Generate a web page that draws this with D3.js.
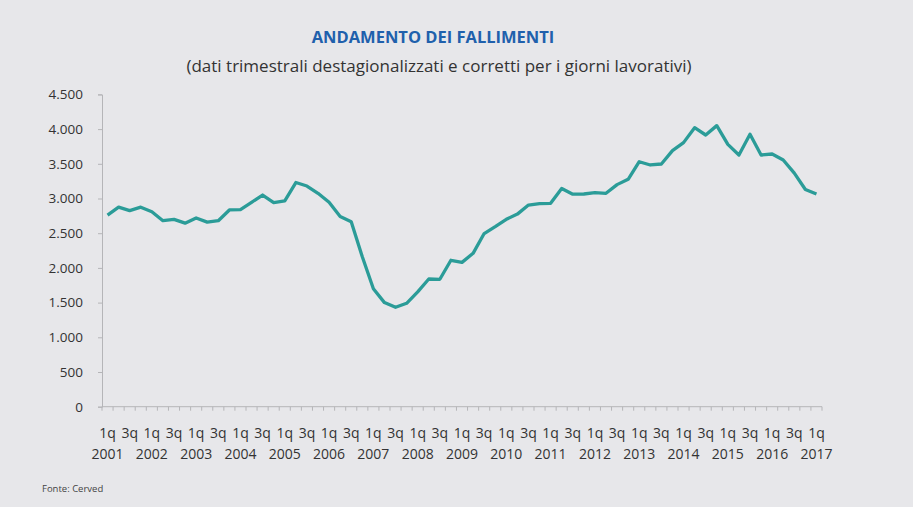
<!DOCTYPE html>
<html>
<head>
<meta charset="utf-8">
<script src="https://cdn.jsdelivr.net/npm/d3@7"></script>
<style>
  body { margin: 0; background: #e7e7ea; }
  text { font-family: "Open Sans", sans-serif; }
</style>
</head>
<body>
<div id="chart"></div>
<script>
// quarters 1q 2001 .. 1q 2017
const years = d3.range(2001, 2018);
const quarters = [];
years.forEach(function(y) {
    [1, 2, 3, 4].forEach(function(q) {
        if (y < 2017 || q === 1) quarters.push({ year: y, q: q });
    });
});

// number of bankruptcies per quarter
const fallimenti = [
    2760, 2875, 2825, 2875, 2810, 2680, 2700, 2645, 2720, 2660,
    2680, 2835, 2840, 2945, 3050, 2940, 2965, 3230, 3180, 3075,
    2945, 2740, 2665, 2160, 1700, 1500, 1432, 1490, 1655, 1840,
    1836, 2110, 2080, 2210, 2495, 2595, 2700, 2775, 2905, 2925,
    2930, 3145, 3062, 3065, 3084, 3075, 3200, 3277, 3530, 3483,
    3497, 3690, 3805, 4020, 3915, 4050, 3780, 3627, 3925, 3627,
    3641, 3555, 3365, 3130, 3065
];

const yTicks = [0, 500, 1000, 1500, 2000, 2500, 3000, 3500, 4000, 4500];

function main() {
    const W = 913, H = 507;
    const left = 102, right = 822, top = 94.4, bottom = 406.7;

    const svg = d3.select("#chart").append("svg")
        .attr("width", W).attr("height", H);

    svg.append("rect").attr("width", W).attr("height", H).attr("fill", "#e7e7ea");

    // titles
    svg.append("text")
        .attr("x", 433).attr("y", 43)
        .attr("text-anchor", "middle")
        .attr("font-size", "16.5px").attr("font-weight", "bold")
        .attr("fill", "#2060ac")
        .text("ANDAMENTO DEI FALLIMENTI");
    svg.append("text")
        .attr("x", 439).attr("y", 72)
        .attr("text-anchor", "middle")
        .attr("font-size", "17px")
        .attr("fill", "#333")
        .text("(dati trimestrali destagionalizzati e corretti per i giorni lavorativi)");

    const x = d3.scaleBand()
        .domain(d3.range(quarters.length))
        .range([left, right]);
    const y = d3.scaleLinear()
        .domain([0, 4500])
        .range([bottom, top]);

    const fmt = d3.formatLocale({ decimal: ",", thousands: ".", grouping: [3], currency: ["€", ""] }).format(",d");

    // Y axis
    const gy = svg.append("g")
        .attr("transform", `translate(${left},0)`)
        .call(d3.axisLeft(y).tickValues(yTicks).tickSize(4).tickPadding(15).tickFormat(fmt));
    gy.select(".domain").attr("stroke", "#b5b5b8");
    gy.selectAll(".tick line").attr("stroke", "#b5b5b8");
    gy.selectAll(".tick text").attr("font-size", "13.5px").attr("fill", "#333");

    // X axis line with ticks at band boundaries
    svg.append("line")
        .attr("x1", left).attr("x2", right)
        .attr("y1", bottom).attr("y2", bottom)
        .attr("stroke", "#b5b5b8");
    svg.selectAll(".xtick")
        .data(d3.range(quarters.length + 1))
        .join("line")
        .attr("class", "xtick")
        .attr("x1", function(i) { return left + i * x.step(); })
        .attr("x2", function(i) { return left + i * x.step(); })
        .attr("y1", bottom).attr("y2", bottom + 4)
        .attr("stroke", "#b5b5b8");

    // quarter labels (every 2 quarters)
    const labelled = quarters.map(function(d, i) { return { d: d, i: i }; })
        .filter(function(o) { return o.d.q === 1 || o.d.q === 3; });
    svg.selectAll(".qlab")
        .data(labelled)
        .join("text")
        .attr("class", "qlab")
        .attr("x", function(o) { return x(o.i) + x.bandwidth() / 2; })
        .attr("y", 438)
        .attr("text-anchor", "middle")
        .attr("font-size", "14px")
        .attr("fill", "#333")
        .text(function(o) { return o.d.q + "q"; });
    svg.selectAll(".ylab")
        .data(labelled.filter(function(o) { return o.d.q === 1; }))
        .join("text")
        .attr("class", "ylab")
        .attr("x", function(o) { return x(o.i) + x.bandwidth() / 2; })
        .attr("y", 459)
        .attr("text-anchor", "middle")
        .attr("font-size", "14px")
        .attr("fill", "#333")
        .text(function(o) { return o.d.year; });

    // the line
    svg.append("path")
        .datum(fallimenti)
        .attr("fill", "none")
        .attr("stroke", "#2b9c98")
        .attr("stroke-width", 3.3)
        .attr("stroke-linejoin", "round")
        .attr("d", d3.line()
            .x(function(d, i) { return x(i) + x.bandwidth() / 2; })
            .y(function(d) { return y(d); }));

    svg.append("text")
        .attr("x", 42).attr("y", 492)
        .attr("font-size", "9.5px")
        .attr("fill", "#444")
        .text("Fonte: Cerved");
}

main();
</script>
</body>
</html>
